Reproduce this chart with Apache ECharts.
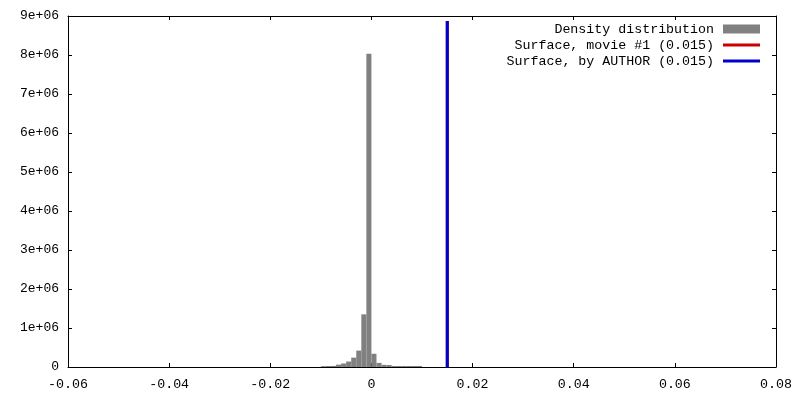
<!DOCTYPE html>
<html>
<head>
<meta charset="utf-8">
<script src="https://cdn.jsdelivr.net/npm/echarts@6/dist/echarts.min.js"></script>
<style>html,body{margin:0;padding:0;background:#fff}#c{width:800px;height:400px}</style>
</head>
<body>
<div id="c"></div>
<script>
// Histogram bins (left edge, right edge) and density values
var binLeft  = [-0.010,-0.009,-0.008,-0.007,-0.006,-0.005,-0.004,-0.003,-0.002,-0.001,0.000,0.001,0.002,0.003,0.004,0.005,0.006,0.007,0.008,0.009];
var binWidth = 0.001;
var density  = [22000,25000,28000,60000,90000,140000,240000,420000,1350000,8030000,340000,105000,55000,50000,26000,25000,25000,25000,25000,25000];
// Vertical reference lines
var surfaceMovie  = 0.015;
var surfaceAuthor = 0.015;
var lineTop = 8870000;
var seriesNames = ['Density distribution', 'Surface, movie #1 (0.015)', 'Surface, by AUTHOR (0.015)'];
var xMin = -0.06, xMax = 0.08, xStep = 0.02;
var yMin = 0, yMax = 9e6, yStep = 1e6;

var font = 'Liberation Mono';
var histData = binLeft.map(function (l, i) { return [l, l + binWidth, density[i]]; });

var chart = echarts.init(document.getElementById('c'), null, {renderer: 'canvas'});
var xAxisBase = {
  type: 'value', min: xMin, max: xMax, interval: xStep,
  splitLine: {show: false},
  axisLine: {show: true, onZero: false, lineStyle: {color: '#000', width: 1}},
  axisTick: {show: true, inside: true, length: 4, lineStyle: {color: '#000'}}
};
var yAxisBase = {
  type: 'value', min: yMin, max: yMax, interval: yStep,
  splitLine: {show: false},
  axisLine: {show: true, onZero: false, lineStyle: {color: '#000', width: 1}},
  axisTick: {show: true, inside: true, length: 4, lineStyle: {color: '#000'}}
};
chart.setOption({
  animation: false,
  backgroundColor: '#fff',
  grid: {left: 68, right: 24, top: 16, bottom: 33, containLabel: false},
  xAxis: [
    Object.assign({}, xAxisBase, {
      position: 'bottom',
      axisLabel: {show: true, color: '#000', fontFamily: font, fontSize: 13.3, margin: 11,
        formatter: function (v) { var r = Math.round(v * 100) / 100; return r === 0 ? '0' : r.toFixed(2); }}
    }),
    Object.assign({}, xAxisBase, {position: 'top', axisLabel: {show: false}})
  ],
  yAxis: [
    Object.assign({}, yAxisBase, {
      position: 'left',
      axisLabel: {show: true, color: '#000', fontFamily: font, fontSize: 13, margin: 9,
        formatter: function (v) { return v === 0 ? '0' : Math.round(v / 1e6) + 'e+06'; }}
    }),
    Object.assign({}, yAxisBase, {position: 'right', axisLabel: {show: false}})
  ],
  legend: {
    orient: 'vertical', right: 40, top: 21, padding: 0, itemGap: 0,
    align: 'right', itemWidth: 37, itemHeight: 9,
    textStyle: {color: '#000', fontFamily: font, fontSize: 13.3, lineHeight: 16, padding: [0, 4, 0, 0]},
    selectedMode: false,
    data: [
      {name: seriesNames[0], icon: 'rect', itemStyle: {color: '#808080'}},
      {name: seriesNames[1], icon: 'path://M0,0 L37,0 L37,3 L0,3 Z', itemStyle: {color: '#cc0000'}},
      {name: seriesNames[2], icon: 'path://M0,0 L37,0 L37,3 L0,3 Z', itemStyle: {color: '#0000cc'}}
    ]
  },
  series: [
    {
      name: seriesNames[0], type: 'custom', xAxisIndex: 0, yAxisIndex: 0,
      itemStyle: {color: '#808080'},
      encode: {x: [0, 1], y: 2},
      data: histData,
      renderItem: function (params, api) {
        var p0 = api.coord([api.value(0), 0]);
        var p1 = api.coord([api.value(1), api.value(2)]);
        return {
          type: 'rect',
          shape: {x: p0[0], y: p1[1], width: p1[0] - p0[0], height: p0[1] - p1[1]},
          style: {fill: '#808080'}
        };
      }
    },
    {
      name: seriesNames[1], type: 'line', xAxisIndex: 0, yAxisIndex: 0,
      data: [[surfaceMovie, 0], [surfaceMovie, lineTop]],
      symbol: 'none', lineStyle: {color: '#cc0000', width: 3}, itemStyle: {color: '#cc0000'}
    },
    {
      name: seriesNames[2], type: 'line', xAxisIndex: 0, yAxisIndex: 0,
      data: [[surfaceAuthor, 0], [surfaceAuthor, lineTop]],
      symbol: 'none', lineStyle: {color: '#0000cc', width: 3}, itemStyle: {color: '#0000cc'}
    }
  ]
});
</script>
</body>
</html>
